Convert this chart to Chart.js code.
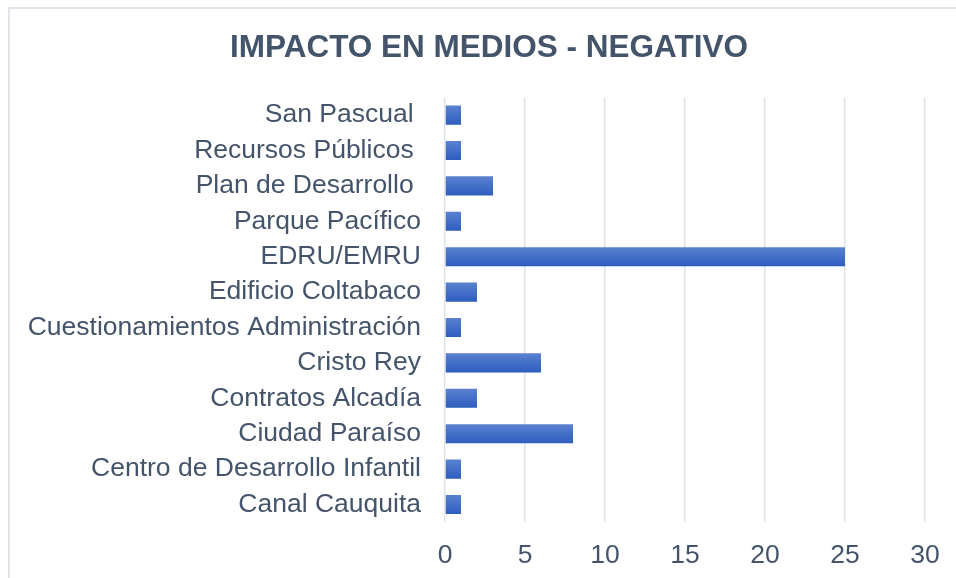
<!DOCTYPE html>
<html>
<head>
<meta charset="utf-8">
<script src="https://cdn.jsdelivr.net/npm/chart.js@4.4.1/dist/chart.umd.min.js"></script>
<style>
  html, body { margin: 0; padding: 0; background: #fff; overflow: hidden; width: 956px; height: 578px; }
  #frame { position: absolute; left: 8px; top: 7px; width: 1200px; height: 900px; border: 2px solid #E1E5EA; box-sizing: border-box; }
  #wrap { position: absolute; left: 0; top: 0; width: 978px; height: 600px; }
</style>
</head>
<body>
<div id="frame"></div>
<div id="wrap"><canvas id="grafico"></canvas></div>
<script>
// categorias de arriba hacia abajo
const temas = [
  'San Pascual ',
  'Recursos Públicos ',
  'Plan de Desarrollo ',
  'Parque Pacífico',
  'EDRU/EMRU',
  'Edificio Coltabaco',
  'Cuestionamientos Administración',
  'Cristo Rey',
  'Contratos Alcadía',
  'Ciudad Paraíso',
  'Centro de Desarrollo Infantil',
  'Canal Cauquita'
];
const impactoNegativo = [1, 1, 3, 1, 25, 2, 1, 6, 2, 8, 1, 1];
const ejeX = [0, 5, 10, 15, 20, 25, 30];
const titulo = 'IMPACTO EN MEDIOS - NEGATIVO';

const textColor = '#44546A';
const fuente = "'Liberation Sans', Arial, sans-serif";

function degradado(context) {
  const chart = context.chart;
  const y = chart.scales.y;
  if (!y || context.dataIndex === undefined) return '#4472C4';
  const centro = y.getPixelForValue(context.dataIndex);
  if (!isFinite(centro)) return '#4472C4';
  const g = chart.ctx.createLinearGradient(0, centro - 9.5, 0, centro + 9.5);
  g.addColorStop(0, '#5B82D1');
  g.addColorStop(1, '#2D5DBE');
  return g;
}

// titulo centrado sobre todo el marco (no solo el area del grafico)
const tituloPlugin = {
  id: 'tituloMarco',
  afterDraw(chart) {
    const c = chart.ctx;
    c.save();
    c.font = 'bold 31.5px ' + fuente;
    c.fillStyle = textColor;
    c.textAlign = 'center';
    c.textBaseline = 'middle';
    c.fillText(titulo, 489, 48.5);
    c.restore();
  }
};

const ctx = document.getElementById('grafico').getContext('2d');

new Chart(ctx, {
  type: 'bar',
  data: {
    labels: temas,
    datasets: [{
      label: 'Negativo',
      data: impactoNegativo,
      backgroundColor: degradado,
      borderWidth: 0,
      barPercentage: 0.54,
      categoryPercentage: 1
    }]
  },
  plugins: [tituloPlugin],
  options: {
    indexAxis: 'y',
    responsive: true,
    maintainAspectRatio: false,
    animation: false,
    layout: { padding: { top: 97.4, right: 53, bottom: 10, left: 0 } },
    plugins: {
      legend: { display: false },
      tooltip: { enabled: false },
      title: { display: false }
    },
    scales: {
      x: {
        min: 0,
        max: 30,
        afterBuildTicks: (scale) => { scale.ticks = ejeX.map(v => ({ value: v })); },
        grid: { color: '#DFE3E8', lineWidth: 1.5, drawTicks: false },
        border: { display: false },
        ticks: { color: textColor, padding: 18, font: { family: fuente, size: 26.5 }, maxRotation: 0 }
      },
      y: {
        afterFit: (scale) => { scale.width = 445; },
        grid: { display: false, drawTicks: false },
        border: { display: false },
        ticks: { color: textColor, padding: 24, font: { family: fuente, size: 26.5 }, autoSkip: false }
      }
    }
  }
});
</script>
</body>
</html>
